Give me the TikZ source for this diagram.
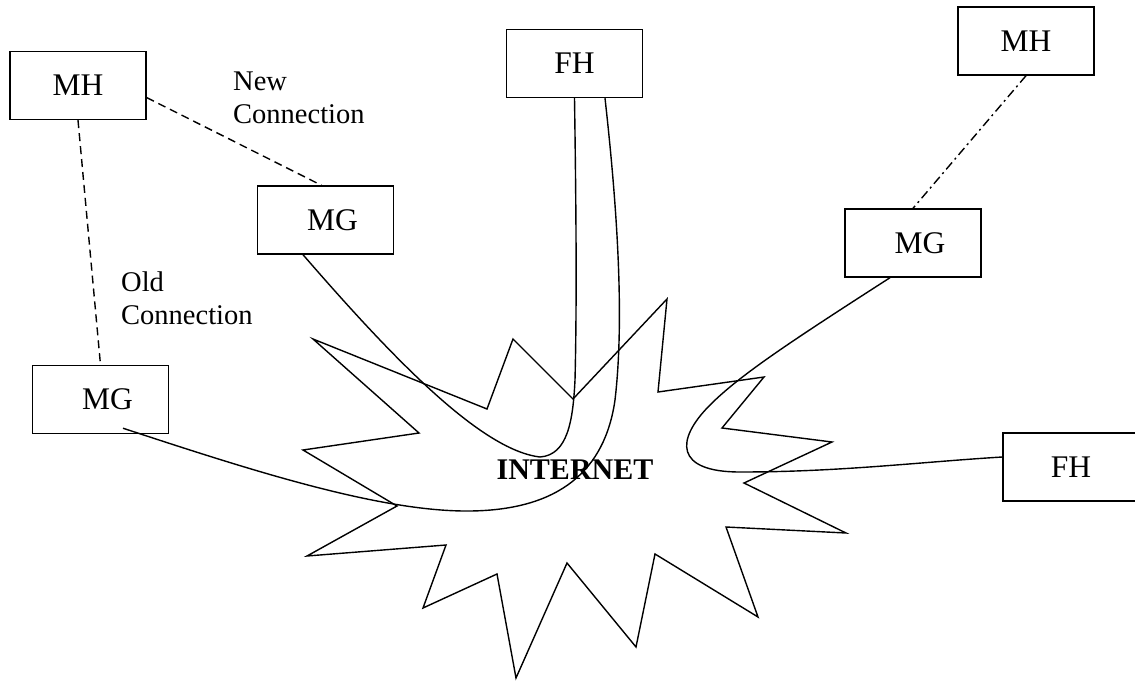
\documentclass[tikz,border=0pt]{standalone}
\usepackage{fontspec}
\setmainfont{Liberation Serif}
\begin{document}
\begin{tikzpicture}[x=1pt,y=-1pt,
  box/.style={draw, line width=1.4pt, rectangle, inner sep=0pt,
    minimum width=136pt, minimum height=68pt,
    font=\fontsize{31.5}{36}\selectfont},
  lbl/.style={inner sep=0pt, align=left, anchor=north west,
    font=\fontsize{28.5}{33}\selectfont},
  wire/.style={line width=1.4pt},
  oldlink/.style={line width=1.4pt, dash pattern=on 8pt off 5pt},
  newlink/.style={line width=1.4pt, dash pattern=on 9pt off 4pt on 2pt off 4pt}]
\useasboundingbox (0,0) rectangle (1135,680);

% the Internet cloud
\draw[line width=1.4pt, line join=miter]
  (313,339) -- (487,409) -- (513,339) -- (573,399) -- (667,299) -- (658,392)
  -- (764,377) -- (722,428) -- (832,442) -- (744,483) -- (846,533) -- (726,527)
  -- (758,617) -- (655,554) -- (636,647) -- (567,563) -- (516,678) -- (497,574)
  -- (423,608) -- (446,545) -- (307,556) -- (397,506) -- (303,450) -- (419,433)
  -- cycle;
\node[font=\bfseries\fontsize{30}{34}\selectfont, inner sep=0pt, anchor=base] (net) at (575,479) {INTERNET};

% hosts and gateways
\node[box] (mhL) at (78,85.5) {MH};
\node[box] (mgM) at (325.5,220) {\hspace*{14pt}MG};
\node[box] (fhT) at (574.5,63.5) {FH};
\node[box] (mhR) at (1026,41) {MH};
\node[box] (mgR) at (913,243) {\hspace*{14pt}MG};
\node[box] (mgL) at (100.5,399.5) {\hspace*{14pt}MG};
\node[box] (fhR) at (1071,467) {FH};

% labels
\node[lbl] (newlbl) at (233,71.5) {New\\Connection};
\node[lbl] (oldlbl) at (121,272) {Old\\Connection};

% wireless links
\draw[oldlink] (mhL.-10) -- ([xshift=-4pt]mgM.north);
\draw[oldlink] (mhL.south) -- (mgL.north);
\draw[newlink] (mhR.south) -- (mgR.north);

% paths through the Internet
\draw[wire] ([xshift=-22.5pt]mgM.south) .. controls (390,355) and (480,450) .. (540,457)
  .. controls (568,455) and (573,420) .. (575,380)
  .. controls (577,300) and (576,200) .. (fhT.south);
\draw[wire] ([xshift=22.5pt,yshift=6pt]mgL.south) .. controls (250,470) and (380,512) .. (470,511)
  .. controls (560,510) and (605,470) .. (615,400)
  .. controls (622,340) and (622,250) .. ([xshift=30.5pt]fhT.south);
\draw[wire] ([xshift=-23pt]mgR.south) .. controls (790,342) and (740,375) .. (710,405)
  .. controls (675,440) and (675,472) .. (740,472)
  .. controls (840,472) and (920,462) .. ([yshift=10pt]fhR.west);
\end{tikzpicture}
\end{document}
